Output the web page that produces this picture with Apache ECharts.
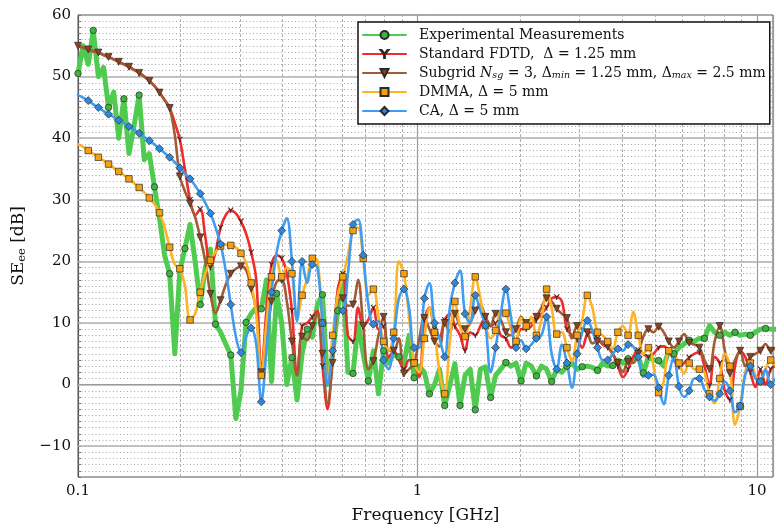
<!DOCTYPE html>
<html>
<head>
<meta charset="utf-8">
<script src="https://cdn.jsdelivr.net/npm/echarts@6/dist/echarts.min.js"></script>
<style>
  html, body { margin: 0; padding: 0; background: #fff; }
  #chart { width: 776px; height: 529px; }
</style>
</head>
<body>
<div id="chart"></div>
<script>
// sampled frequencies [GHz], log spaced
var freq = [
  0.1, 0.1035, 0.1072, 0.1109, 0.1148, 0.1189, 0.1230, 0.1274, 0.1318, 0.1365,
  0.1413, 0.1462, 0.1514, 0.1567, 0.1622, 0.1679, 0.1738, 0.1799, 0.1862, 0.1928,
  0.1995, 0.2065, 0.2138, 0.2213, 0.2291, 0.2371, 0.2455, 0.2541, 0.2630, 0.2723,
  0.2818, 0.2917, 0.3020, 0.3126, 0.3236, 0.3350, 0.3467, 0.3589, 0.3715, 0.3846,
  0.3981, 0.4121, 0.4266, 0.4416, 0.4571, 0.4732, 0.4898, 0.5070, 0.5248, 0.5433,
  0.5623, 0.5821, 0.6026, 0.6237, 0.6457, 0.6683, 0.6918, 0.7161, 0.7413, 0.7674,
  0.7943, 0.8222, 0.8511, 0.8810, 0.9120, 0.9441, 0.9772, 1.012, 1.047, 1.084,
  1.122, 1.161, 1.202, 1.245, 1.288, 1.334, 1.380, 1.429, 1.479, 1.531,
  1.585, 1.641, 1.698, 1.758, 1.820, 1.884, 1.950, 2.018, 2.089, 2.163,
  2.239, 2.317, 2.399, 2.483, 2.570, 2.661, 2.754, 2.851, 2.951, 3.055,
  3.162, 3.273, 3.388, 3.508, 3.631, 3.758, 3.891, 4.027, 4.169, 4.315,
  4.467, 4.624, 4.786, 4.955, 5.129, 5.309, 5.495, 5.689, 5.888, 6.095,
  6.310, 6.531, 6.761, 6.998, 7.244, 7.499, 7.762, 8.035, 8.318, 8.610,
  8.913, 9.226, 9.550, 9.886, 10.23, 10.59, 10.97, 11.35
];

var experimental = [
  50.5, 55.0, 52.0, 57.5, 50.0, 51.5, 45.0, 47.5, 40.0, 46.4,
  37.5, 42.0, 47.0, 36.5, 37.5, 32.1, 27.0, 21.0, 18.0, 5.0,
  18.5, 22.1, 26.0, 20.0, 13.0, 19.0, 22.0, 9.8, 8.5, 6.6,
  4.8, -5.5, -1.0, 10.1, 11.5, 12.5, 12.3, 17.0, 0.5, 14.8,
  10.0, 0.0, 4.4, -2.5, 5.0, 9.0, 7.7, 13.0, 14.6, 0.0,
  5.0, 12.0, 18.0, 2.0, 1.8, 10.0, 5.0, 0.6, 5.5, -1.5,
  5.5, 3.5, 5.0, 4.5, 3.4, 8.0, 1.1, 3.0, 2.0, -1.5,
  0.0, 2.5, -3.4, 0.0, 3.4, -3.4, 1.5, 2.5, -4.1, 2.5,
  2.9, -2.1, 1.5, 2.5, 3.6, 3.0, 3.5, 0.6, 3.5, 3.0,
  1.4, 3.0, 2.5, 0.5, 2.5, 2.0, 3.0, 3.5, 2.5, 2.9,
  3.0, 2.8, 2.3, 3.5, 3.0, 3.1, 4.0, 3.5, 4.2, 4.0,
  4.5, 1.9, 4.5, 4.0, 3.9, 3.0, 5.5, 5.0, 6.0, 6.6,
  7.2, 7.0, 7.5, 7.5, 9.6, 8.5, 8.0, 8.5, 8.0, 8.5,
  8.0, 8.2, 8.0, 8.5, 9.0, 9.1, 9.0, 9.0
];

var standardFdtd = [
  55.0, 54.7, 54.4, 54.1, 53.9, 53.5, 53.2, 52.8, 52.4, 52.0,
  51.6, 51.1, 50.6, 50.0, 49.3, 48.5, 47.4, 46.2, 44.9, 42.5,
  39.8, 35.0, 30.0, 27.5, 28.5, 24.0, 19.0, 21.5, 25.5, 27.5,
  28.3, 27.8, 26.5, 24.5, 21.5, 17.0, 2.0, 12.0, 19.5, 21.0,
  20.5, 18.0, 12.0, 1.5, 9.5, 10.0, 11.0, 12.0, 3.0, -4.0,
  5.0, 15.5, 18.0, 8.0, 7.0, 12.5, 9.5, 10.5, 12.5, 9.0,
  9.5, 4.4, 5.5, 4.0, 2.5, 4.0, 3.5, 1.2, 10.5, 12.5,
  9.0, 7.8, 10.5, 11.5, 9.5, 8.0, 5.5, 8.5, 8.0, 9.5,
  10.9, 9.5, 10.0, 8.0, 7.5, 6.0, 7.0, 9.0, 9.0, 9.5,
  10.5, 11.5, 12.5, 14.0, 14.2, 13.5, 9.0, 8.0, 7.3, 6.0,
  8.2, 8.5, 7.5, 6.5, 6.0, 5.0, 3.0, 1.2, 2.5, 4.5,
  5.6, 5.0, 4.5, 5.0, 6.0, 6.2, 5.5, 4.0, 2.9, 3.5,
  4.4, 5.0, 5.2, 3.0, -0.2, 4.5, 3.5, -1.0, -2.5, 3.0,
  5.5, 4.5, 2.0, -0.4, 2.5, 0.0, 2.5, 3.0
];

var subgrid = [
  55.0, 54.7, 54.4, 54.1, 53.9, 53.5, 53.2, 52.8, 52.4, 52.0,
  51.6, 51.1, 50.6, 50.0, 49.3, 48.5, 47.4, 46.2, 44.9, 40.5,
  33.8, 31.4, 29.4, 27.2, 23.9, 20.0, 14.7, 11.6, 13.7, 16.2,
  18.0, 18.8, 19.2, 18.6, 15.6, 12.0, 2.0, 7.0, 13.5, 16.7,
  17.0, 13.5, 7.0, 1.5, 7.8, 7.2, 9.5, 11.5, 5.0, -3.0,
  3.5, 13.5, 14.0, 12.8, 13.0, 17.0, 9.5, 2.5, 3.8, 8.0,
  11.0, 5.5, 5.5, 7.5, 1.8, 2.5, 3.5, 7.5, 10.8, 9.0,
  7.0, 6.2, 10.0, 8.5, 11.5, 9.5, 9.0, 10.0, 12.0, 13.0,
  11.0, 9.5, 11.5, 10.5, 8.5, 8.0, 9.0, 11.0, 10.0, 10.0,
  11.0, 12.5, 14.0, 13.5, 12.3, 11.5, 10.8, 7.5, 9.5, 9.0,
  8.5, 6.7, 7.0, 7.0, 6.2, 5.0, 3.5, 2.0, 3.7, 3.5,
  5.0, 7.8, 9.0, 8.5, 9.4, 8.5, 7.0, 6.0, 7.0, 8.2,
  6.8, 6.5, 6.0, 4.0, 2.5, 7.0, 9.5, 5.5, 1.8, 4.0,
  5.5, 3.0, 4.5, 5.0, 5.5, 6.6, 5.5, 6.0
];

var dmma = [
  39.0, 38.6, 38.0, 37.5, 36.9, 36.4, 35.8, 35.2, 34.6, 34.0,
  33.4, 32.7, 32.0, 31.2, 30.3, 29.3, 27.9, 25.5, 22.3, 19.5,
  18.8, 16.0, 10.5, 11.5, 15.0, 18.0, 20.2, 21.5, 22.5, 22.7,
  22.6, 22.3, 21.3, 19.8, 16.5, 11.5, 1.5, 10.0, 17.5, 20.2,
  17.5, 19.0, 18.0, 10.5, 14.5, 17.2, 20.5, 20.2, 10.0, 0.6,
  8.0, 14.5, 17.5, 21.0, 25.0, 25.5, 20.5, 14.5, 15.5, 11.0,
  7.0, 5.5, 8.5, 20.0, 18.0, 11.0, 3.5, 2.0, 7.5, 12.5,
  8.5, 2.0, -1.5, 7.0, 13.5, 9.5, 7.8, 12.5, 17.5, 14.0,
  9.6, 7.5, 8.8, 12.0, 11.6, 9.0, 7.0, 10.8, 9.5, 11.0,
  8.0, 10.5, 15.5, 12.5, 8.2, 8.5, 6.0, 3.8, 8.0, 10.5,
  14.5, 12.5, 8.5, 8.0, 7.0, 5.8, 8.5, 9.5, 8.0, 11.8,
  8.0, 5.0, 6.0, 3.0, -1.3, 0.5, 5.5, 5.0, 3.5, 1.8,
  3.5, 2.5, 2.5, 2.0, -1.5, -3.0, 1.0, 5.0, 3.0, -6.5,
  -3.5, 2.0, 3.5, 1.5, 0.5, 2.5, 4.0, 3.0
];

var ca = [
  47.0, 46.6, 46.1, 45.5, 45.0, 44.4, 43.9, 43.4, 42.9, 42.4,
  41.9, 41.4, 40.8, 40.2, 39.6, 39.0, 38.3, 37.6, 36.9, 36.1,
  35.2, 34.3, 33.4, 32.3, 31.0, 29.5, 27.8, 25.5, 22.8, 18.5,
  13.0, 7.8, 5.2, 7.8, 9.2, 6.5, -2.8, 5.5, 15.0, 21.5,
  25.0, 27.0, 20.0, 10.3, 20.0, 16.5, 19.5, 19.0, 10.0, 0.0,
  5.5, 12.5, 12.0, 18.0, 26.0, 26.8, 21.0, 13.0, 9.8, 10.3,
  4.0, 2.5, 7.5, 14.0, 15.5, 12.5, 6.0, 6.0, 14.0, 16.5,
  10.0, 7.5, 4.5, 12.5, 16.5, 18.5, 11.5, 10.0, 14.5, 12.0,
  9.6, 2.0, 6.0, 11.5, 15.5, 11.0, 6.0, 7.2, 5.8, 6.5,
  7.5, 8.0, 11.0, 5.0, 2.5, 6.5, 3.5, -0.5, 5.0, 8.5,
  10.4, 8.8, 6.0, 4.0, 4.0, 5.0, 5.8, 5.5, 6.5, 6.2,
  4.5, 1.3, 1.5, 1.6, -0.5, -3.2, 1.5, 4.5, -0.3, -2.0,
  -1.0, 1.0, 1.0, -0.8, -2.0, -2.6, -1.5, 0.5, -1.0, -4.5,
  -3.5, 1.5, 3.0, 1.0, 0.5, 2.5, 0.0, 1.0
];

var seriesNames = ['Experimental Measurements', 'Standard FDTD', 'Subgrid', 'DMMA', 'CA'];
var legendLabels = {
  'Experimental Measurements': 'Experimental Measurements',
  'Standard FDTD': 'Standard FDTD,  Δ = 1.25 mm',
  'Subgrid': 'Subgrid {i|N}{s|sg} = 3, Δ{s|min} = 1.25 mm, Δ{s|max} = 2.5 mm',
  'DMMA': 'DMMA, Δ = 5 mm',
  'CA': 'CA, Δ = 5 mm'
};
var yMajor = [-10, 0, 10, 20, 30, 40, 50];
var xMinor = [0.2, 0.3, 0.4, 0.5, 0.6, 0.7, 0.8, 0.9, 2, 3, 4, 5, 6, 7, 8, 9];

var FONT = 'DejaVu Serif';
var Y_SYMBOL = 'path://M0,0L1.3,0L5,4.4L8.7,0L10,0L5.5,5.4L5.5,10L4.5,10L4.5,5.4Z';

function pairs(vals) {
  return freq.map(function (f, i) { return [f, vals[i]]; });
}

// markers on every n-th sample
function markEvery(step, skipFirst, size) {
  return function (v, p) {
    if (skipFirst && p.dataIndex === 0) return 0;
    return p.dataIndex % step === 0 ? size : 0;
  };
}

function lineSeries(name, vals, color, width, symbol, symFill, symSize, step, skipFirst, extra) {
  var s = {
    name: name,
    type: 'line',
    data: pairs(vals),
    smooth: 0.35,
    showAllSymbol: true,
    symbol: symbol,
    symbolSize: markEvery(step, skipFirst, symSize),
    lineStyle: { color: color, width: width, cap: 'round', join: 'round' },
    itemStyle: { color: symFill, borderColor: '#2a2a2a', borderWidth: 0.7 },
    emphasis: { disabled: true },
    animation: false
  };
  for (var k in extra) s[k] = extra[k];
  return s;
}

var chart = echarts.init(document.getElementById('chart'));
chart.setOption({
  backgroundColor: '#fff',
  animation: false,
  grid: {
    left: 78, right: 0, top: 15, bottom: 52,
    show: true, borderColor: '#555', borderWidth: 1, backgroundColor: 'transparent'
  },
  legend: {
    data: seriesNames,
    orient: 'vertical',
    left: 358, top: 22,
    itemWidth: 43, itemHeight: 10, itemGap: 3,
    padding: [5, 4, 5, 4],
    backgroundColor: '#fff',
    borderColor: '#111', borderWidth: 1.5, borderRadius: 0,
    selectedMode: false,
    formatter: function (n) { return legendLabels[n]; },
    textStyle: {
      fontFamily: FONT, fontSize: 14, color: '#111', lineHeight: 16, padding: [0, 0, 0, 8],
      rich: {
        i: { fontFamily: FONT, fontSize: 14, fontStyle: 'italic', color: '#111', lineHeight: 16 },
        s: { fontFamily: FONT, fontSize: 9.5, fontStyle: 'italic', color: '#111', lineHeight: 9, verticalAlign: 'bottom' }
      }
    }
  },
  xAxis: {
    type: 'log', logBase: 10, min: 0.1, max: 11.14,
    name: 'Frequency [GHz]', nameLocation: 'middle', nameGap: 30,
    nameTextStyle: { fontFamily: FONT, fontSize: 17, color: '#111' },
    axisLine: { show: true, lineStyle: { color: '#555', width: 1 } },
    axisTick: { show: true, inside: true, length: 5, lineStyle: { color: '#555' } },
    axisLabel: {
      fontFamily: FONT, fontSize: 15, color: '#111', margin: 7,
      formatter: function (v) {
        var l = Math.log10(v), r = Math.round(l);
        if (Math.abs(l - r) > 1e-6) return '';
        return r < 0 ? '0.1' : String(Math.pow(10, r));
      }
    },
    splitLine: { show: true, lineStyle: { color: '#9a9a9a', width: 1.2 } }
  },
  yAxis: [{
    type: 'value', min: -15, max: 60, interval: 5,
    name: '{a|SE}{b|ee}{a| [dB]}', nameLocation: 'middle', nameGap: 44, nameRotate: 90,
    nameTextStyle: {
      rich: {
        a: { fontFamily: FONT, fontSize: 17, color: '#111', lineHeight: 20 },
        b: { fontFamily: FONT, fontSize: 11.5, color: '#111', lineHeight: 11, verticalAlign: 'bottom' }
      }
    },
    axisLine: { show: true, lineStyle: { color: '#555', width: 1 } },
    axisTick: { show: false },
    axisLabel: {
      fontFamily: FONT, fontSize: 15, color: '#111', margin: 7,
      formatter: function (v) {
        if (v % 10 !== 0) return '';
        return v < 0 ? '\u2212' + (-v) : String(v);
      }
    },
    splitLine: { show: false }
  }, {
    type: 'value', min: -15, max: 60, interval: 1, position: 'left',
    axisLine: { show: false },
    axisTick: { show: true, inside: true, length: 3, lineStyle: { color: '#777' } },
    axisLabel: { show: false },
    splitLine: { show: true, lineStyle: { color: '#a8a8a8', width: 1, type: [1, 2.5] } }
  }],
  series: [
    {
      name: 'gridlines', type: 'line', data: [], silent: true,
      markLine: {
        silent: true, z: 1, animation: false,
        symbol: ['none', 'none'],
        label: { show: false },
        emphasis: { disabled: true },
        lineStyle: { color: '#b0b0b0', width: 1, type: [3, 2] },
        data: xMinor.map(function (v) { return { xAxis: v }; }).concat(
          yMajor.map(function (v) {
            return { yAxis: v, lineStyle: { color: '#b0b0b0', width: 1.5, type: 'solid' } };
          }))
      }
    },
    lineSeries('Experimental Measurements', experimental, '#4fcb4f', 5, 'circle', '#3eb43e', 6.5, 3, false,
      { smooth: false }),
    lineSeries('Standard FDTD', standardFdtd, '#ef2b2b', 2.6, Y_SYMBOL, '#b01a1a', 5, 2, true, {}),
    lineSeries('Subgrid', subgrid, '#a15c35', 2.6, 'triangle', '#8a4520', 7, 2, false, { symbolRotate: 180 }),
    lineSeries('DMMA', dmma, '#ffb224', 2.6, 'rect', '#f5a00f', 6.5, 2, true, {}),
    lineSeries('CA', ca, '#3f9cf0', 2.6, 'diamond', '#2f87dc', 8, 2, true, {})
  ]
});
</script>
</body>
</html>
